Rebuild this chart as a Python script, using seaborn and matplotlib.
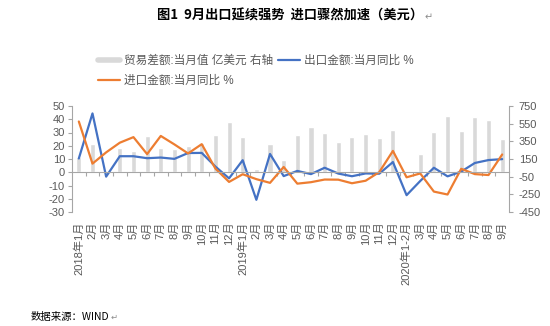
import numpy as np
import pandas as pd
import matplotlib
matplotlib.use("Agg")
import matplotlib.pyplot as plt
import seaborn as sns
from matplotlib.lines import Line2D

months = (["2018年1月"] + [f"{m}月" for m in range(2, 13)]
          + ["2019年1月"] + [f"{m}月" for m in range(2, 13)]
          + ["2020年1-2月"] + [f"{m}月" for m in range(3, 10)])

trade_balance = [175, 325, 0, 270, 235, 413, 280, 266, 300, 335, 426, 573,
                 400, 39, 323, 138, 422, 516, 445, 345, 398, 432, 384, 475,
                 0, 201, 456, 640, 467, 627, 594, 378]
export_yoy = [10.4, 44.4, -3.3, 12.1, 12.1, 10.6, 11.1, 10.1, 14.5, 14.6, 4.3, -4.6,
              9.1, -20.8, 13.8, -2.9, 1.0, -1.4, 3.4, -1.0, -3.0, -0.9, -1.1, 7.7,
              -17.3, -6.6, 3.4, -3.1, 0.5, 7.0, 9.2, 9.9]
import_yoy = [38.3, 6.5, 15.0, 22.3, 26.5, 13.7, 27.4, 21.0, 14.2, 21.2, 2.8, -7.3,
              -1.5, -5.2, -8.0, 4.0, -8.6, -7.5, -5.5, -5.6, -8.3, -6.4, 0.1, 16.1,
              -3.8, -0.9, -14.6, -16.8, 2.6, -1.4, -2.1, 13.4]

labels = ["贸易差额:当月值 亿美元 右轴", "出口金额:当月同比 %", "进口金额:当月同比 %"]
title = "图1  9月出口延续强势  进口骤然加速（美元）"
source = "数据来源：WIND"
para_mark = "↵"

sns.set_theme(style="white")
plt.rcParams["font.family"] = ["Liberation Sans", "Noto Sans CJK SC", "DejaVu Sans"]
plt.rcParams["axes.unicode_minus"] = False

GRAY_AX = "#A6A6A6"
TXT = "#595959"
BLUE = "#4472C4"
ORANGE = "#ED7D31"
BAR = "#D9D9D9"

df = pd.DataFrame({"idx": np.arange(len(months)), "month": months,
                   "trade": trade_balance, "export": export_yoy, "import": import_yoy})

fig = plt.figure(figsize=(5.5, 3.26), dpi=100)
ax = fig.add_axes([72 / 550, 1 - 212 / 326, (509 - 72) / 550, (212 - 106) / 326])
ax2 = ax.twinx()

sns.barplot(data=df, x="idx", y="trade", ax=ax2, color=BAR, width=0.37,
            saturation=1, errorbar=None)
sns.lineplot(data=df, x="idx", y="export", ax=ax, color=BLUE, lw=1.6)
sns.lineplot(data=df, x="idx", y="import", ax=ax, color=ORANGE, lw=1.6)

ax.set_zorder(ax2.get_zorder() + 1)
ax.patch.set_visible(False)

ax.set_xlim(-0.5, len(months) - 0.5)
ax.set_ylim(-30, 50)
ax2.set_ylim(-450, 750)
ax.set_yticks(range(-30, 51, 10))
ax2.set_yticks(range(-450, 751, 200))

for a in (ax, ax2):
    a.set_xlabel("")
    a.set_ylabel("")
    for s in a.spines.values():
        s.set_color(GRAY_AX)
        s.set_linewidth(0.8)
ax.spines["top"].set_visible(False)
ax.spines["right"].set_visible(False)
ax.spines["bottom"].set_position(("data", 0))
ax2.spines["top"].set_visible(False)
ax2.spines["bottom"].set_visible(False)
ax2.spines["left"].set_visible(False)

ax.set_xticks(np.arange(0.5, len(months) - 0.5, 1))
ax.set_xticklabels([])
ax.tick_params(axis="x", bottom=True, length=3, width=0.8, color=GRAY_AX, direction="out")
ax.tick_params(axis="y", left=True, length=3, width=0.8, color=GRAY_AX, direction="out",
               labelsize=8, labelcolor=TXT, pad=2)
ax2.tick_params(axis="y", right=True, length=3, width=0.8, color=GRAY_AX, direction="out",
                labelsize=8, labelcolor=TXT, pad=4)

sec = ax.secondary_xaxis("bottom")
sec.set_xticks(range(len(months)))
sec.set_xticklabels(months, rotation=90, fontsize=8, color=TXT)
sec.tick_params(length=0, pad=7)
sec.spines["bottom"].set_visible(False)

handles = [Line2D([], [], color=BAR, lw=4),
           Line2D([], [], color=ORANGE, lw=1.6),
           Line2D([], [], color=BLUE, lw=1.6)]
fig.legend(handles, [labels[0], labels[2], labels[1]], ncol=2, frameon=False,
           loc="upper left", bbox_to_anchor=(98 / 550, 1 - 55 / 326),
           fontsize=8.4, labelcolor=TXT, handlelength=1.9, handletextpad=0.35,
           columnspacing=0.4, labelspacing=0.65, borderpad=0, borderaxespad=0)

fam = ["Noto Sans CJK SC", "DejaVu Sans"]
t = fig.text(290 / 550, 1 - 16 / 326, title, ha="center", va="center", fontsize=9.5,
             fontweight="bold", family=fam, color="black")
fig.canvas.draw()
bb = t.get_window_extent()
fig.text((bb.x1 + 1) / 550, 1 - 17 / 326, para_mark, ha="left", va="center",
         fontsize=7, family=["DejaVu Sans"], color="#8C8C8C")
s = fig.text(31 / 550, 1 - 317 / 326, source, ha="left", va="center", fontsize=7.5,
             family=fam, color="black")
fig.canvas.draw()
bb2 = s.get_window_extent()
fig.text((bb2.x1 + 1) / 550, 1 - 317 / 326, para_mark, ha="left", va="center",
         fontsize=6, family=["DejaVu Sans"], color="#8C8C8C")

fig.savefig("out.png", dpi=100)
